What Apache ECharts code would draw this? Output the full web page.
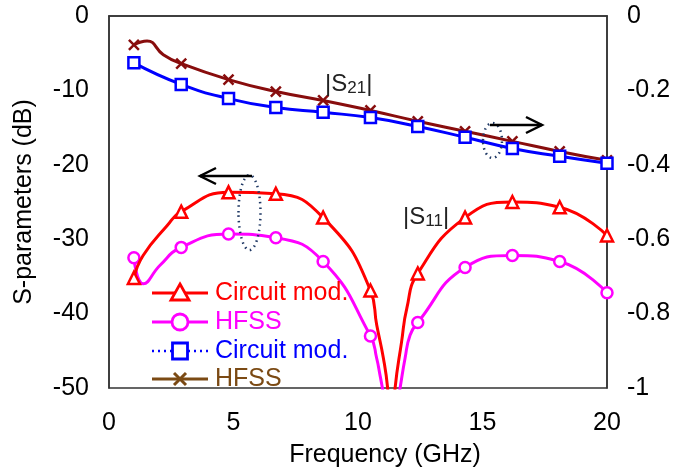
<!DOCTYPE html>
<html>
<head>
<meta charset="utf-8">
<script src="https://cdn.jsdelivr.net/npm/echarts@6/dist/echarts.min.js"></script>
<style>
  html, body { margin: 0; padding: 0; background: #fff; }
  #chart { width: 681px; height: 473px; }
</style>
</head>
<body>
<div id="chart"></div>
<script>
// Frequency points carrying markers (GHz)
const markerFreq = [1, 2.9, 4.8, 6.7, 8.6, 10.5, 12.4, 14.3, 16.2, 18.1, 20];

// |S11| in dB (left axis)
const s11Circuit = [-35.2, -26.3, -23.7, -23.9, -27.1, -36.9, -34.6, -27.1, -25.0, -25.7, -29.5];
const s11Hfss    = [-32.5, -31.1, -29.3, -29.8, -33.0, -43.0, -41.2, -33.8, -32.2, -33.0, -37.2];

// |S21| in dB (right axis)
const s21Circuit = [-0.126, -0.184, -0.222, -0.246, -0.259, -0.273, -0.297, -0.326, -0.356, -0.377, -0.396];
const s21Hfss    = [-0.0775, -0.128, -0.171, -0.203, -0.227, -0.254, -0.283, -0.310, -0.337, -0.364, -0.388];

// Extra curve points between markers (drawn without symbols)
const s11CircuitTrace = [[1.37, -32.2], [2.33, -28.2], [10.75, -41.5], [11.02, -46.0], [11.19, -50.0],
                         [11.34, -57.0], [11.49, -50.0], [11.75, -43.8], [11.96, -39.3]];
const s11HfssTrace    = [[1.38, -36.0], [2.05, -33.5], [10.75, -46.0], [10.88, -48.2], [10.98, -50.0],
                         [11.34, -57.0], [11.69, -50.0], [11.89, -46.0], [12.09, -42.9]];
const s21HfssTrace    = [[1.53, -0.067], [2.18, -0.104]];

// Axis ranges / tick steps
const freqRange = [0, 20, 5];
const dbRange = [-50, 0, 10];
const s21Range = [-1, 0, 0.2];

const FONT = "'Liberation Sans', Arial, sans-serif";
const RED = '#ff0000', MAGENTA = '#ff00ff', BLUE = '#0000ff', MAROON = '#880d0d', BROWN = '#7b4a14';

function buildCurve(values, trace) {
  const pts = markerFreq.map((f, i) => ({ value: [f, values[i]] }));
  trace.forEach(p => pts.push({ value: p, symbol: 'none' }));
  return pts.sort((a, b) => a.value[0] - b.value[0]);
}

function curveSeries(name, data, axis, color, symbol, size, z) {
  return {
    name, type: 'line', yAxisIndex: axis, data, z,
    smooth: 0.5,
    symbol, symbolSize: size, showAllSymbol: true,
    lineStyle: { color, width: 3 },
    itemStyle: { color: symbol.startsWith('path') ? color : '#fff', borderColor: color, borderWidth: 2.5 },
    emphasis: { disabled: true },
    animation: false
  };
}

const chart = echarts.init(document.getElementById('chart'));

const axisLine = { show: true, lineStyle: { color: '#333', width: 1.5 } };
const tickLabel = { color: '#000', fontSize: 25, fontFamily: FONT };

const legendRows = [
  { y: 293, color: RED, text: 'Circuit mod.', mark: 'triangle', dash: false },
  { y: 322, color: MAGENTA, text: 'HFSS', mark: 'circle', dash: false },
  { y: 351, color: BLUE, text: 'Circuit mod.', mark: 'square', dash: true },
  { y: 379, color: BROWN, text: 'HFSS', mark: 'cross', dash: false }
];

function legendMark(r) {
  const cx = 180, cy = r.y;
  const st = { stroke: r.color, lineWidth: 2.8, fill: '#fff' };
  if (r.mark === 'triangle') {
    return { type: 'polygon', shape: { points: [[cx, cy - 9], [cx + 9, cy + 7], [cx - 9, cy + 7]] }, style: st };
  }
  if (r.mark === 'circle') {
    return { type: 'circle', shape: { cx, cy, r: 8 }, style: st };
  }
  if (r.mark === 'square') {
    return { type: 'rect', shape: { x: cx - 7.5, y: cy - 8, width: 15, height: 16 }, style: st };
  }
  return {
    type: 'group', children: [
      { type: 'line', shape: { x1: cx - 6, y1: cy - 6, x2: cx + 6, y2: cy + 6 }, style: { stroke: r.color, lineWidth: 3 } },
      { type: 'line', shape: { x1: cx + 6, y1: cy - 6, x2: cx - 6, y2: cy + 6 }, style: { stroke: r.color, lineWidth: 3 } }
    ]
  };
}

const legendGraphics = [];
legendRows.forEach(r => {
  legendGraphics.push({
    type: 'line', shape: { x1: 152, y1: r.y, x2: 208, y2: r.y },
    style: { stroke: r.color, lineWidth: r.dash ? 2.5 : 3, lineDash: r.dash ? [2, 4] : null }
  });
  legendGraphics.push(legendMark(r));
  legendGraphics.push({
    type: 'text', x: 215, y: r.y,
    style: { text: r.text, fill: r.color, font: '25px ' + FONT, textVerticalAlign: 'middle' }
  });
});

const annotation = [
  // |S21| and |S11| labels
  {
    type: 'text', x: 325, y: 84,
    style: {
      text: '|S{s|21}|', font: '24px ' + FONT, fill: '#222', textVerticalAlign: 'middle',
      rich: { s: { fontSize: 17, fontFamily: FONT, fill: '#222', padding: [8, 0, 0, 0] } }
    }
  },
  {
    type: 'text', x: 403, y: 217,
    style: {
      text: '|S{s|11}|', font: '24px ' + FONT, fill: '#222', textVerticalAlign: 'middle',
      rich: { s: { fontSize: 17, fontFamily: FONT, fill: '#222', padding: [8, 0, 0, 0] } }
    }
  },
  // Dotted ellipses grouping the curves
  { type: 'ellipse', shape: { cx: 492.5, cy: 140.5, rx: 9.5, ry: 17.5 },
    style: { fill: 'none', stroke: '#1f3864', lineWidth: 2.5, lineDash: [1.5, 4] } },
  { type: 'ellipse', shape: { cx: 249.5, cy: 212.5, rx: 11, ry: 37.5 },
    style: { fill: 'none', stroke: '#1f3864', lineWidth: 2.5, lineDash: [1.5, 4] } },
  // Arrows pointing to the relevant axis
  { type: 'polyline', shape: { points: [[490, 125], [542, 125]] }, style: { stroke: '#000', lineWidth: 2.5, fill: null } },
  { type: 'polyline', shape: { points: [[526, 117], [542, 125], [526, 133]] }, style: { stroke: '#000', lineWidth: 2.5, fill: null } },
  { type: 'polyline', shape: { points: [[252, 176], [200, 176]] }, style: { stroke: '#000', lineWidth: 2.5, fill: null } },
  { type: 'polyline', shape: { points: [[216, 168], [200, 176], [216, 184]] }, style: { stroke: '#000', lineWidth: 2.5, fill: null } }
];

chart.setOption({
  backgroundColor: '#fff',
  animation: false,
  grid: { left: 109, right: 74, top: 16, bottom: 83, show: true, borderColor: '#333', borderWidth: 1.5, backgroundColor: 'transparent' },
  xAxis: {
    type: 'value', min: freqRange[0], max: freqRange[1], interval: freqRange[2],
    axisLine, axisTick: { show: false }, splitLine: { show: false },
    axisLabel: Object.assign({ margin: 23 }, tickLabel),
    name: 'Frequency (GHz)', nameLocation: 'middle', nameGap: 55,
    nameTextStyle: { color: '#000', fontSize: 25, fontFamily: FONT, padding: [0, 0, 0, 54] }
  },
  yAxis: [
    {
      type: 'value', min: dbRange[0], max: dbRange[1], interval: dbRange[2],
      axisLine, axisTick: { show: false }, splitLine: { show: false },
      axisLabel: Object.assign({ margin: 20 }, tickLabel),
      name: 'S-parameters (dB)', nameLocation: 'middle', nameGap: 72,
      nameTextStyle: { color: '#000', fontSize: 25, fontFamily: FONT }
    },
    {
      type: 'value', position: 'right', min: s21Range[0], max: s21Range[1], interval: s21Range[2],
      axisLine, axisTick: { show: false }, splitLine: { show: false },
      axisLabel: Object.assign({ margin: 20, formatter: v => String(+v.toFixed(1)) }, tickLabel)
    }
  ],
  series: [
    curveSeries('HFSS S11', buildCurve(s11Hfss, s11HfssTrace), 0, MAGENTA, 'circle', 11, 2),
    curveSeries('Circuit S11', buildCurve(s11Circuit, s11CircuitTrace), 0, RED, 'triangle', 12, 3),
    curveSeries('HFSS S21', buildCurve(s21Hfss, s21HfssTrace), 1, MAROON, 'path://M0,0L10,10M10,0L0,10', 10, 4),
    curveSeries('Circuit S21', buildCurve(s21Circuit, []), 1, BLUE, 'rect', 11, 5)
  ],
  graphic: annotation.concat(legendGraphics).map(g => Object.assign({ z: 100 }, g))
});
</script>
</body>
</html>
